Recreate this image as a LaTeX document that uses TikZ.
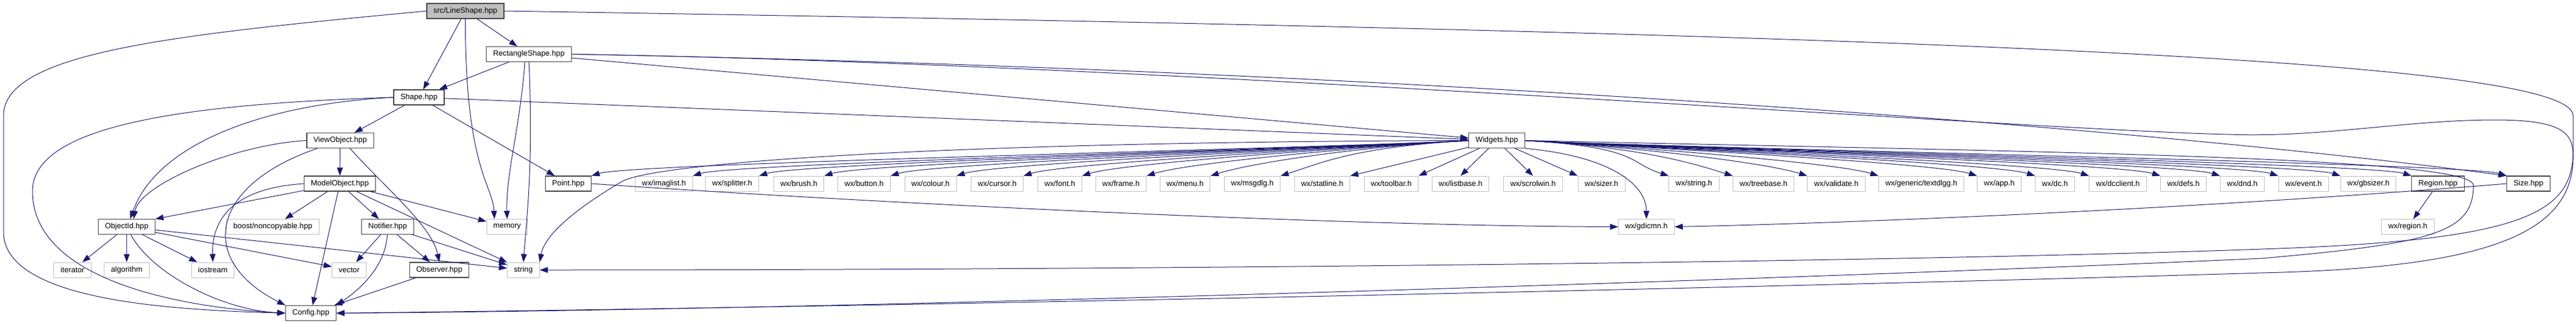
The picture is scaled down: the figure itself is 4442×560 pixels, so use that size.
\documentclass[tikz,border=0pt]{standalone}
\usepackage{fontspec}
\setmainfont{Liberation Sans}
\usetikzlibrary{positioning, arrows.meta}
\definecolor{edgeblue}{HTML}{191970}
\definecolor{extgray}{HTML}{BFBFBF}
\definecolor{boxgray}{HTML}{404040}

\begin{document}
\begin{tikzpicture}[x=1pt, y=-1pt,
  incfile/.style={draw=boxgray, fill=white, line width=1.2pt, font=\fontsize{13.2}{16}\selectfont, inner xsep=11.5pt, inner ysep=0pt, minimum height=26pt},
  extfile/.style={incfile, draw=extgray, line width=1pt},
  rootfile/.style={incfile, fill=extgray},
  dep/.style={draw=edgeblue, line width=1pt, -{Triangle[length=14pt, width=10pt]}}]
  \useasboundingbox (0,0) rectangle (4442,560);

  % nodes
  \node [rootfile] (lineshape) at (802.5,19) {src/LineShape.hpp};
  \node [incfile] (rectshape) at (912,93.5) {RectangleShape.hpp};
  \node [incfile] (shape) at (722.5,168) {Shape.hpp};
  \node [incfile] (viewobject) at (586.5,242.5) {ViewObject.hpp};
  \node [incfile] (widgets) at (2581,242.5) {Widgets.hpp};

  \node [incfile] (modelobject) at (586,317) {ModelObject.hpp};
  \node [incfile] (point) at (980,317) {Point.hpp};
  \node [extfile] (imaglist) at (1145,317) {wx/imaglist.h};
  \node [extfile] (splitter) at (1262.5,317) {wx/splitter.h};
  \node [extfile] (brush) at (1377.5,317) {wx/brush.h};
  \node [extfile] (button) at (1490,317) {wx/button.h};
  \node [extfile] (colour) at (1604.5,317) {wx/colour.h};
  \node [extfile] (cursor) at (1719.5,317) {wx/cursor.h};
  \node [extfile] (font) at (1827.5,317) {wx/font.h};
  \node [extfile] (frame) at (1933,317) {wx/frame.h};
  \node [extfile] (menu) at (2043.5,317) {wx/menu.h};
  \node [extfile] (msgdlg) at (2159.5,317) {wx/msgdlg.h};
  \node [extfile] (statline) at (2280,317) {wx/statline.h};
  \node [extfile] (toolbar) at (2399,317) {wx/toolbar.h};
  \node [extfile] (listbase) at (2518.5,317) {wx/listbase.h};
  \node [extfile] (scrolwin) at (2643.5,317) {wx/scrolwin.h};
  \node [extfile] (sizer) at (2761.5,317) {wx/sizer.h};
  \node [extfile] (wxstring) at (2921,317) {wx/string.h};
  \node [extfile] (treebase) at (3041,317) {wx/treebase.h};
  \node [extfile] (validate) at (3166.5,317) {wx/validate.h};
  \node [extfile] (textdlgg) at (3313,317) {wx/generic/textdlgg.h};
  \node [extfile] (app) at (3447.5,317) {wx/app.h};
  \node [extfile] (dc) at (3543.5,317) {wx/dc.h};
  \node [extfile] (dcclient) at (3652,317) {wx/dcclient.h};
  \node [extfile] (defs) at (3765,317) {wx/defs.h};
  \node [extfile] (dnd) at (3866.5,317) {wx/dnd.h};
  \node [extfile] (event) at (3972,317) {wx/event.h};
  \node [extfile] (gbsizer) at (4084,317) {wx/gbsizer.h};
  \node [incfile] (region) at (4204,317) {Region.hpp};
  \node [incfile] (size) at (4360,317) {Size.hpp};

  \node [incfile] (objectid) at (218.5,391.5) {ObjectId.hpp};
  \node [extfile] (boost) at (470.5,391.5) {boost/noncopyable.hpp};
  \node [incfile] (notifier) at (668.5,391.5) {Notifier.hpp};
  \node [extfile] (memory) at (874.5,391.5) {memory};
  \node [extfile] (gdicmn) at (2839,391.5) {wx/gdicmn.h};
  \node [extfile] (regionh) at (4152,391.5) {wx/region.h};

  \node [extfile] (iterator) at (125,466) {iterator};
  \node [extfile] (algorithm) at (218.5,466) {algorithm};
  \node [extfile] (iostream) at (367,466) {iostream};
  \node [extfile] (vector) at (602,466) {vector};
  \node [incfile] (observer) at (757.5,466) {Observer.hpp};
  \node [extfile] (string) at (902.5,466) {string};
  \node [incfile] (config) at (536,540.5) {Config.hpp};

  % edges
  \draw [dep] (lineshape) -- (shape);
  \draw [dep] (lineshape) -- (rectshape);
  \draw [dep] (lineshape.south) .. controls (802,290) and (850,320) .. ([xshift=-22pt]memory.north);
  \draw [dep] (lineshape.west) .. controls (300,60) and (6,90) .. (6,200) -- (6,400) .. controls (6,520) and (300,535) .. (config.west);
  \draw [dep] (lineshape.east) .. controls (3500,60) and (4437,110) .. (4437,200) -- (4437,260) .. controls (4437,370) and (4350,415) .. (3900,430) .. controls (3300,452) and (2000,466) .. (string.east);

  \draw [dep] (rectshape) -- (shape);
  \draw [dep] ([xshift=-7pt]rectshape.south) .. controls (897,220) and (872,300) .. (memory.north);
  \draw [dep] (rectshape.south) .. controls (920,280) and (908,380) .. (string.north);
  \draw [dep] (rectshape) -- (widgets);
  \draw [dep] (rectshape.east) .. controls (2400,120) and (3700,220) .. (size.north west);
  \draw [dep] (rectshape.east) .. controls (2000,110) and (3500,225) .. (3844,232) .. controls (4000,238) and (4150,207) .. (4302,207) .. controls (4420,207) and (4437,230) .. (4437,270) .. controls (4437,400) and (4300,462) .. (3900,471) .. controls (3000,498) and (1500,530) .. (config.east);

  \draw [dep] (shape) -- (viewobject);
  \draw [dep] (shape) -- (point);
  \draw [dep] (shape) -- (widgets);
  \draw [dep] (shape.west) .. controls (450,180) and (270,250) .. ([xshift=6pt]objectid.north);
  \draw [dep] (shape.west) .. controls (300,180) and (56,220) .. (56,330) .. controls (56,480) and (300,530) .. (config.west);

  \draw [dep] (viewobject) -- (modelobject);
  \draw [dep] (viewobject.west) .. controls (400,250) and (240,320) .. ([xshift=12pt]objectid.north);
  \draw [dep] ([xshift=-39pt]viewobject.south) .. controls (360,320) and (340,450) .. (config.north west);
  \draw [dep] ([xshift=17pt]viewobject.south) .. controls (660,320) and (745,390) .. (observer.north);

  \draw [dep] (modelobject) -- (objectid.north east);
  \foreach \n in {boost, notifier, memory, string, config}
    \draw [dep] (modelobject) -- (\n);
  \draw [dep] (modelobject.west) .. controls (400,325) and (365,380) .. (iostream.north);

  \foreach \n in {iterator, algorithm, iostream, vector, string}
    \draw [dep] (objectid) -- (\n);
  \draw [dep] (objectid) .. controls (260,470) and (380,535) .. (config.west);

  \foreach \n in {vector, observer, string}
    \draw [dep] (notifier) -- (\n);
  \draw [dep] (notifier) .. controls (665,460) and (620,500) .. (config.north east);
  \draw [dep] (observer) -- (config);

  \foreach \n in {point, imaglist, splitter, brush, button, colour, cursor, font, frame, menu, msgdlg}
    \draw [dep] (widgets.west) .. controls +(-200,12) and +(70,-22) .. (\n.north east);
  \foreach \n in {statline, toolbar}
    \draw [dep] (widgets) -- (\n.north east);
  \foreach \n in {listbase, scrolwin}
    \draw [dep] (widgets) -- (\n.north);
  \draw [dep] (widgets) -- (sizer.north west);
  \foreach \n in {wxstring, treebase, validate, textdlgg, app, dc, dcclient, defs, dnd, event, gbsizer, region, size}
    \draw [dep] (widgets.east) .. controls +(200,12) and +(-70,-22) .. (\n.north west);
  \draw [dep] (widgets.south east) .. controls (2780,270) and (2839,320) .. (gdicmn.north);
  \draw [dep] (widgets.west) .. controls (1600,245) and (1130,282) .. (1073,313) .. controls (1010,350) and (940,400) .. (string.north east);
  \draw [dep] (widgets.east) .. controls (3500,262) and (4265,270) .. (4265,320) .. controls (4265,400) and (4200,420) .. (3900,446) .. controls (3200,478) and (1500,535) .. (config.east);

  \draw [dep] (point.east) .. controls (1500,350) and (2300,390) .. (gdicmn.west);
  \draw [dep] (size.west) .. controls (3800,360) and (3200,385) .. (gdicmn.east);
  \draw [dep] (region) -- (regionh);
\end{tikzpicture}
\end{document}
